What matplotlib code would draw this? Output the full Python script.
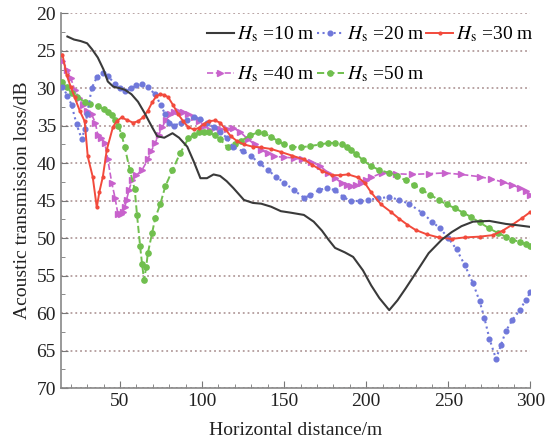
import matplotlib
matplotlib.use("Agg")
import matplotlib.pyplot as plt
from matplotlib.ticker import MultipleLocator

plt.rcParams['font.family'] = ['Liberation Serif', 'DejaVu Serif']
plt.rcParams['mathtext.fontset'] = 'stix'

labels = [r'$H_{\mathrm{s}}$ =10 m', r'$H_{\mathrm{s}}$ =20 m', r'$H_{\mathrm{s}}$ =30 m',
          r'$H_{\mathrm{s}}$ =40 m', r'$H_{\mathrm{s}}$ =50 m']

x10 = [18, 22, 26, 30, 33, 36.5, 40, 42.6, 46, 50, 53, 57, 61, 65, 69.6, 72.7, 77, 82, 86, 91,
       95, 99, 103, 107, 111, 115, 119, 125.5, 131, 136, 142, 148, 154, 162, 168, 173, 177, 181,
       187, 192, 198, 203, 208, 214, 219, 224, 230, 238, 246, 252, 258, 265, 275, 285, 293, 300]
y10 = [23.1, 23.5, 23.7, 24.0, 24.8, 25.9, 27.5, 29.1, 29.8, 30.0, 30.2, 30.8, 31.8, 33.3, 35.2,
       36.4, 36.6, 36.0, 36.6, 37.8, 39.8, 42.0, 42.0, 41.5, 41.7, 42.4, 43.3, 44.9, 45.3, 45.4,
       45.8, 46.4, 46.6, 46.9, 47.8, 49.0, 50.2, 51.3, 51.9, 52.5, 54.3, 56.3, 58.0, 59.6, 58.3,
       56.7, 54.7, 52.0, 50.2, 49.2, 48.4, 47.8, 47.7, 48.1, 48.3, 48.5]

x20 = [15, 18, 20.5, 23.6, 26.7, 28.5, 30, 32.8, 36, 39.6, 43, 47, 50, 53, 57, 60, 63.5, 67,
       71.5, 75, 77.6, 80, 83, 87, 91, 95, 99, 103, 107, 111, 115, 119, 125, 130, 135, 140, 145,
       150, 156, 162, 166, 171, 176, 181, 186, 191, 196, 201, 207, 214, 220, 226, 234, 240, 245,
       250, 255, 260, 265, 269, 272, 275, 279, 282, 285, 289, 293.5, 297, 300]
y20 = [29.8, 31.0, 32.2, 34.8, 36.8, 35.5, 33.5, 30.0, 28.5, 27.9, 28.4, 29.5, 30.0, 30.4, 30.0,
       29.6, 29.5, 29.9, 30.8, 32.3, 33.5, 34.6, 35.0, 34.6, 34.3, 33.9, 34.1, 34.6, 35.2, 35.8,
       36.6, 37.9, 38.4, 39.1, 40.0, 40.9, 41.8, 42.6, 43.6, 44.6, 44.3, 43.6, 43.3, 43.6, 44.5,
       45.1, 45.0, 44.9, 44.7, 44.5, 44.9, 45.4, 46.6, 47.8, 48.7, 50.0, 51.5, 53.6, 56.0, 58.4,
       60.7, 63.4, 66.1, 64.3, 62.4, 60.9, 59.6, 58.3, 57.2]

x30 = [15, 17.5, 20, 22.4, 25.5, 28.5, 30.4, 33.4, 35.9, 37.5, 39.6, 42, 45.7, 48, 51, 54, 58,
       61, 64, 67, 69.6, 72, 74.5, 77, 79.4, 82.5, 85.6, 88.5, 91.7, 95, 98, 101, 104, 108, 111,
       114, 117.5, 121, 125.5, 131, 136, 142, 148, 155, 162, 167, 173, 179, 184, 189, 195, 199,
       203, 209, 215, 220, 225, 230, 237, 244, 252, 260, 269, 277, 283, 289, 295, 300]
y30 = [25.5, 28.2, 29.8, 31.2, 33.0, 34.4, 39.1, 41.8, 45.9, 43.8, 41.8, 38.2, 35.2, 34.4, 33.9,
       34.2, 34.6, 34.4, 33.9, 33.0, 31.9, 31.1, 30.8, 30.9, 31.2, 32.3, 33.5, 34.4, 35.2, 35.5,
       35.3, 34.8, 34.4, 34.3, 34.6, 35.4, 36.4, 37.0, 37.5, 37.8, 37.9, 38.1, 38.5, 39.0, 39.5,
       40.2, 41.0, 41.6, 41.6, 41.5, 41.9, 42.6, 43.9, 45.5, 46.5, 47.4, 48.2, 48.9, 49.5, 49.9,
       50.1, 49.9, 49.8, 49.6, 49.0, 48.2, 47.3, 46.5]

x40 = [15, 18, 20, 22.4, 25, 27.3, 30, 32.8, 35, 36.5, 38.5, 40.8, 42.6, 45, 47, 48.8, 50.5,
       51.8, 53, 54, 55.5, 57.4, 60, 63.5, 67, 69, 71.5, 73.5, 75.8, 78, 80.7, 83, 85.6, 88.5,
       91.7, 95, 98, 101, 105, 111, 115, 119, 123, 128, 132, 136, 140, 144, 150, 156, 161, 166.6,
       172, 177, 181, 185, 188, 191, 194, 197, 200, 203, 209.5, 218, 228, 238, 248, 258, 269,
       276, 283, 289, 293.5, 297, 300]
y40 = [26.4, 27.5, 28.6, 30.2, 31.3, 32.2, 33.0, 33.5, 34.6, 36.2, 36.7, 37.3, 39.5, 42.6, 44.6,
       46.8, 46.8, 46.5, 45.8, 44.9, 43.6, 42.2, 41.6, 40.9, 39.5, 38.4, 37.3, 36.2, 35.2, 34.2,
       33.5, 33.2, 33.1, 33.2, 33.5, 33.9, 34.4, 35.1, 35.6, 35.5, 35.4, 35.3, 35.8, 36.8, 37.5,
       38.2, 38.7, 39.1, 39.2, 39.3, 39.5, 39.8, 40.4, 41.3, 42.0, 42.6, 42.9, 43.1, 42.9, 42.6,
       42.2, 41.9, 41.3, 41.4, 41.5, 41.4, 41.3, 41.5, 41.8, 42.1, 42.5, 42.9, 43.3, 43.7, 44.2]

x50 = [15, 17.5, 20.5, 24, 28.5, 32, 36.5, 40, 42.6, 45, 47, 49, 51, 53, 56, 59, 60.4, 62.3,
       63.5, 64.7, 66, 67, 69.6, 71.5, 74.5, 77.6, 82, 86.8, 91.7, 95, 98, 101, 104, 108, 111,
       115.6, 120, 124, 129, 134, 138, 142, 146, 150, 155, 160, 166, 172, 177, 181, 185, 188,
       191, 194, 198, 203, 208, 214, 219, 224, 229, 234, 239, 244, 249, 254, 259, 264, 269, 275,
       280, 285, 289, 293.5, 297, 300]
y50 = [29.2, 29.9, 30.6, 31.2, 31.8, 32.1, 32.4, 32.8, 33.2, 33.6, 34.2, 35.0, 36.2, 37.9, 40.9,
       43.5, 46.9, 51.1, 53.5, 55.6, 53.8, 52.0, 49.3, 47.3, 45.5, 43.1, 40.9, 38.6, 36.7, 36.2,
       35.9, 35.8, 35.9, 36.3, 36.8, 37.9, 37.5, 37.0, 36.3, 35.9, 36.0, 36.5, 37.0, 37.5, 37.8,
       37.9, 37.7, 37.5, 37.3, 37.3, 37.4, 37.8, 38.3, 38.8, 39.6, 40.4, 40.9, 41.3, 41.7, 42.3,
       42.9, 43.6, 44.2, 44.9, 45.5, 46.0, 46.6, 47.2, 47.9, 48.7, 49.3, 49.8, 50.2, 50.5, 50.8,
       51.1]

fig = plt.figure(figsize=(5.48, 4.43), dpi=100)
ax = fig.add_axes([0.111, 0.124, 0.857, 0.846])

h10, = ax.plot(x10, y10, color='#3a3a3a', lw=1.5, label=labels[0], zorder=5)
h20, = ax.plot(x20, y20, color='#7078da', lw=1.5, ls=':', marker='o', ms=3.4,
               label=labels[1], zorder=4)
h30, = ax.plot(x30, y30, color='#f24a3c', lw=1.4, ls='-', marker='o', ms=2.0,
               label=labels[2], zorder=4)
h40, = ax.plot(x40, y40, color='#c862cc', lw=1.2, ls='--', marker='>', ms=4.0,
               label=labels[3], zorder=3)
h50, = ax.plot(x50, y50, color='#70bf4e', lw=1.4, ls='--', marker='o', ms=3.8,
               label=labels[4], zorder=3)

ax.set_xlim(14, 300)
ax.set_ylim(70, 20)
ax.yaxis.set_major_locator(MultipleLocator(5))
ax.yaxis.set_minor_locator(MultipleLocator(2.5))
ax.xaxis.set_major_locator(MultipleLocator(50))
ax.xaxis.set_minor_locator(MultipleLocator(10))
ax.tick_params(which='both', direction='in', colors='#777777', labelcolor='#222222',
               labelsize=14)
ax.tick_params(which='major', length=5)
ax.tick_params(which='minor', length=3)
for s in ['top', 'right']:
    ax.spines[s].set_visible(False)
for s in ['left', 'bottom']:
    ax.spines[s].set_color('#888888')
    ax.spines[s].set_linewidth(1.2)
ax.grid(axis='y', which='major', ls=':', color='#b39c9c', lw=1.3)
ax.set_axisbelow(True)

ax.set_xlabel('Horizontal distance/m', fontsize=14, color='#222222', labelpad=9)
ax.set_ylabel('Acoustic transmission loss/dB', fontsize=14, color='#222222', labelpad=4)

handles = [h10, h40, h20, h50, h30]
fig.legend(handles, [h.get_label() for h in handles], ncol=3, frameon=False,
           loc='upper right', bbox_to_anchor=(0.985, 0.958), fontsize=14,
           handlelength=1.4, handletextpad=0.15, columnspacing=0.1, labelspacing=1.05,
           borderaxespad=0.0, borderpad=0.3)

fig.savefig('out.png', dpi=100)
